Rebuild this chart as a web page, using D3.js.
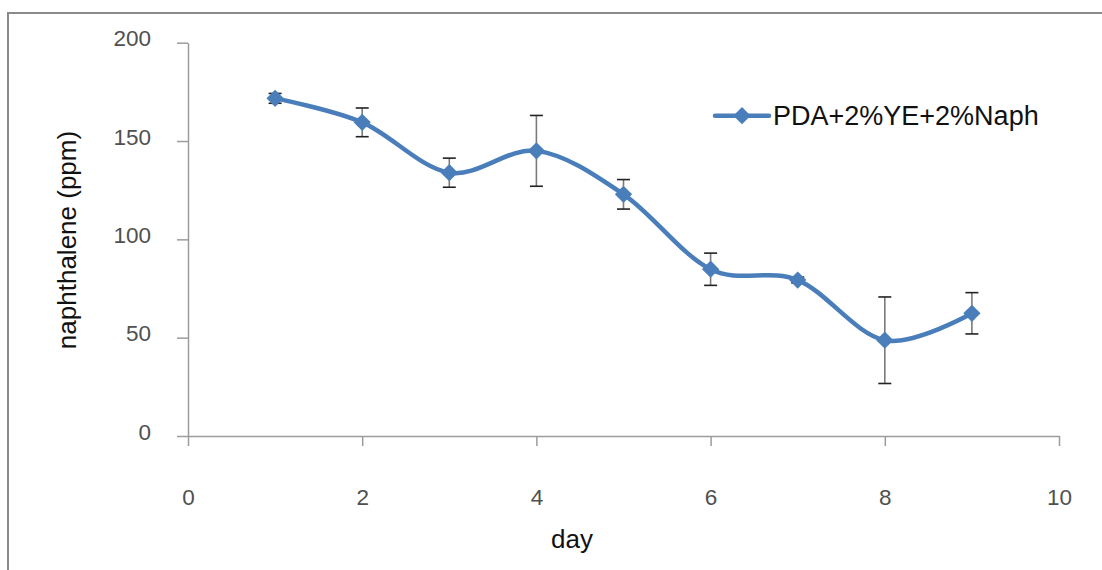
<!DOCTYPE html>
<html>
<head>
<meta charset="utf-8">
<script src="https://cdn.jsdelivr.net/npm/d3@7"></script>
<style>
  html, body { margin: 0; padding: 0; background: #fff; }
  svg { display: block; font-family: "Liberation Sans", Arial, sans-serif; }
</style>
</head>
<body>
<svg id="chart" width="1102" height="570"></svg>
<script>
// data
const days = [1, 2, 3, 4, 5, 6, 7, 8, 9];
const naphthalene = [171.7, 159.5, 133.9, 145, 122.9, 84.8, 79.3, 48.7, 62.4];
const errors = [2.5, 7.3, 7.4, 18, 7.5, 8.2, 1.5, 22, 10.5];
const xTicks = [0, 2, 4, 6, 8, 10];
const yTicks = [0, 50, 100, 150, 200];
const seriesName = 'PDA+2%YE+2%Naph';

const width = 1102, height = 570;
const plot = { left: 188, right: 1059, top: 42.7, bottom: 436 };
const blue = '#4a7ebb';

const svg = d3.select('#chart');

// outer frame (only top and left edges are in view)
svg.append('path')
    .attr('d', `M8,${height} V13 H${width}`)
    .attr('fill', 'none')
    .attr('stroke', '#8a8a8a')
    .attr('stroke-width', 2);

const x = d3.scaleLinear().domain([0, 10]).range([plot.left, plot.right]);
const y = d3.scaleLinear().domain([0, 200]).range([plot.bottom, plot.top]);

// axes
const xAxis = svg.append('g')
    .attr('transform', `translate(0,${plot.bottom})`)
    .call(d3.axisBottom(x).tickValues(xTicks).tickSize(10).tickSizeOuter(0).tickPadding(0));

const yAxis = svg.append('g')
    .attr('transform', `translate(${plot.left},0)`)
    .call(d3.axisLeft(y).tickValues(yTicks).tickSize(11).tickSizeOuter(0).tickPadding(0));

[xAxis, yAxis].forEach(g => {
    g.select('.domain').attr('stroke', '#9c9c9c').attr('stroke-width', 1.5);
    g.selectAll('.tick line').attr('stroke', '#9c9c9c').attr('stroke-width', 1.5);
    g.selectAll('.tick text')
        .attr('fill', '#505050')
        .style('font-size', '22.5px')
        .style('font-family', '"Liberation Sans", Arial, sans-serif');
});

xAxis.selectAll('.tick text')
    .attr('y', 68.5)
    .attr('dy', null);

yAxis.selectAll('.tick text')
    .attr('x', -37)
    .attr('dy', null)
    .attr('y', 3);

// axis titles
svg.append('text')
    .attr('x', 572)
    .attr('y', 548)
    .attr('text-anchor', 'middle')
    .style('font-size', '26px')
    .attr('fill', '#111')
    .text('day');

svg.append('text')
    .attr('transform', 'translate(76,240) rotate(-90)')
    .attr('text-anchor', 'middle')
    .style('font-size', '26px')
    .attr('fill', '#111')
    .text('naphthalene (ppm)');

const points = days.map((d, i) => ({ day: d, value: naphthalene[i], err: errors[i] }));

// error bars
const eb = svg.append('g').selectAll('g.err')
    .data(points)
    .join('g')
        .attr('class', 'err');

eb.append('line')
    .attr('x1', d => x(d.day))
    .attr('x2', d => x(d.day))
    .attr('y1', d => y(d.value + d.err))
    .attr('y2', d => y(d.value - d.err))
    .attr('stroke', '#7a7a7a')
    .attr('stroke-width', 1.6);

eb.selectAll('line.cap')
    .data(d => [d.value + d.err, d.value - d.err].map(v => ({ day: d.day, v })))
    .join('line')
        .attr('class', 'cap')
        .attr('x1', d => x(d.day) - 6.5)
        .attr('x2', d => x(d.day) + 6.5)
        .attr('y1', d => y(d.v))
        .attr('y2', d => y(d.v))
        .attr('stroke', '#222')
        .attr('stroke-width', 1.6);

// smoothed line
const line = d3.line()
    .x(d => x(d.day))
    .y(d => y(d.value))
    .curve(d3.curveCardinal.tension(0));

svg.append('path')
    .datum(points)
    .attr('d', line)
    .attr('fill', 'none')
    .attr('stroke', blue)
    .attr('stroke-width', 4.5)
    .attr('stroke-linejoin', 'round')
    .attr('stroke-linecap', 'round');

// diamond markers
const diamond = d3.symbol().type(d3.symbolDiamond2).size(190);

svg.append('g').selectAll('path.marker')
    .data(points)
    .join('path')
        .attr('class', 'marker')
        .attr('transform', d => `translate(${x(d.day)},${y(d.value)})`)
        .attr('d', diamond)
        .attr('fill', blue);

// legend
const legend = svg.append('g').attr('transform', 'translate(715,115.7)');

legend.append('line')
    .attr('x1', 0)
    .attr('x2', 54)
    .attr('stroke', blue)
    .attr('stroke-width', 4.5)
    .attr('stroke-linecap', 'round');

legend.append('path')
    .attr('transform', 'translate(27,0)')
    .attr('d', diamond)
    .attr('fill', blue);

legend.append('text')
    .attr('x', 58)
    .attr('y', 9.2)
    .style('font-size', '27px')
    .attr('fill', '#111')
    .text(seriesName);
</script>
</body>
</html>
